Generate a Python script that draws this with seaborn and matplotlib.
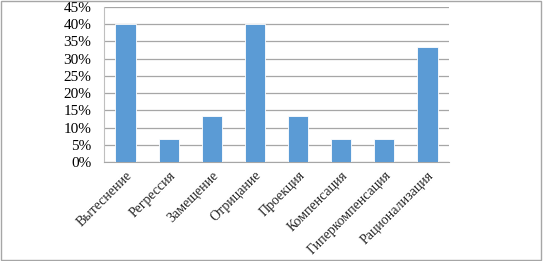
import matplotlib
matplotlib.use("Agg")
import matplotlib.pyplot as plt
import matplotlib.ticker as mtick
import seaborn as sns
import pandas as pd

categories = ["Вытеснение", "Регрессия", "Замещение", "Отрицание",
              "Проекция", "Компенсация", "Гиперкомпенсация", "Рационализация"]
shares = [0.40, 0.0667, 0.1333, 0.40, 0.1333, 0.0667, 0.0667, 0.3333]

df = pd.DataFrame({"Механизм": categories, "Доля": shares})

sns.set_style("white")
plt.rcParams["font.family"] = ["Liberation Serif", "DejaVu Serif"]

fig = plt.figure(figsize=(5.43, 2.61), dpi=100)
ax = fig.add_axes([104 / 543, 1 - 162 / 261, 345 / 543, 155 / 261])

sns.barplot(data=df, x="Механизм", y="Доля", color="#5b9bd5", width=0.47,
            saturation=1, edgecolor="white", linewidth=0.6, ax=ax, zorder=3)

ax.set_ylim(0, 0.45)
ax.set_xlim(-0.5, len(categories) - 0.5)
ax.yaxis.set_major_locator(mtick.MultipleLocator(0.05))
ax.yaxis.set_major_formatter(mtick.PercentFormatter(1.0, decimals=0))
ax.grid(axis="y", color="#a6a6a6", linewidth=0.9, zorder=0)
ax.set_xlabel("")
ax.set_ylabel("")

for side in ["top", "right"]:
    ax.spines[side].set_visible(False)
ax.spines["left"].set_color("#bfbfbf")
ax.spines["bottom"].set_color("#a6a6a6")

ax.set_xticks([i + 0.5 for i in range(-1, len(categories))], minor=True)
ax.tick_params(axis="x", which="minor", length=5, color="#a6a6a6", width=0.9)
ax.tick_params(axis="x", which="major", length=0, pad=5)
ax.tick_params(axis="y", length=0, pad=9, labelsize=11, colors="#000000")
ax.set_xticks(range(len(categories)))
ax.set_xticklabels(categories, rotation=45, ha="right", rotation_mode="anchor",
                   fontsize=10)

fig.patches.append(plt.Rectangle((0.002, 0.004), 0.994, 0.992, transform=fig.transFigure,
                                 fill=False, edgecolor="#a6a6a6", linewidth=1))

fig.savefig("out.png", dpi=100)
